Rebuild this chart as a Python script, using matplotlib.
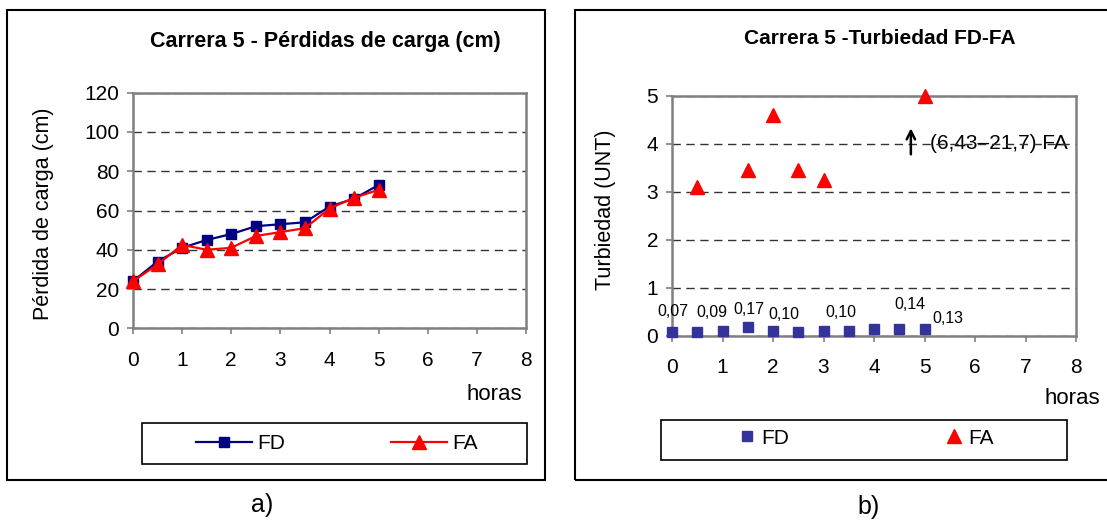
import matplotlib
matplotlib.use("Agg")
import matplotlib.pyplot as plt
from matplotlib.lines import Line2D
from matplotlib.patches import Rectangle

plt.rcParams["font.family"] = ["Liberation Sans", "DejaVu Sans"]

# Carrera 5: horas de operación
horas = [0, 0.5, 1, 1.5, 2, 2.5, 3, 3.5, 4, 4.5, 5]

# a) pérdidas de carga (cm)
perdida_fd = [24, 34, 41, 45, 48, 52, 53, 54, 62, 66, 73]
perdida_fa = [24, 32.5, 42.5, 40, 41, 47, 49, 51, 61, 66.5, 70.5]

# b) turbiedad (UNT)
turb_fd = [0.07, 0.08, 0.09, 0.17, 0.10, 0.08, 0.10, 0.10, 0.13, 0.14, 0.13]
horas_fa = [0.5, 1.5, 2, 2.5, 3, 5]
turb_fa = [3.1, 3.45, 4.6, 3.45, 3.25, 5.0]
rango_fa = (6.43, 21.7)

# etiquetas de valor en FD (índice del punto, posición de la etiqueta)
etiquetas_fd = [0, 2, 3, 4, 7, 9, 10]
pos_etiquetas = [(0.02, 0.50), (0.79, 0.48), (1.52, 0.54), (2.22, 0.44),
                 (3.35, 0.48), (4.71, 0.65), (5.46, 0.35)]

AZUL = "#000080"
AZUL_B = "#333399"
ROJO = "#ff0000"
GRIS = "#808080"

W, H = 1107, 522
fig = plt.figure(figsize=(W / 100, H / 100), dpi=100)


def caja(x0, y0, x1, y1, lw=1.5):
    """Rectángulo en píxeles de la figura (origen arriba-izquierda)."""
    r = Rectangle((x0 / W, 1 - y1 / H), (x1 - x0) / W, (y1 - y0) / H,
                  transform=fig.transFigure, fill=False, edgecolor="black",
                  linewidth=lw, zorder=0)
    fig.add_artist(r)


def ejes(x0, y0, x1, y1):
    ax = fig.add_axes([x0 / W, 1 - y1 / H, (x1 - x0) / W, (y1 - y0) / H])
    for s in ax.spines.values():
        s.set_color(GRIS)
        s.set_linewidth(1.8)
    ax.tick_params(colors=GRIS, labelcolor="black", labelsize=15,
                   length=4, width=1.2, direction="out")
    ax.tick_params(axis="x", pad=12)
    ax.tick_params(axis="y", pad=6)
    ax.yaxis.grid(True, linestyle=(0, (6, 4)), color="#333333", linewidth=1.0)
    ax.set_xlim(0, 8)
    ax.set_xticks(range(0, 9))
    return ax


# ---------------- a) pérdidas de carga ----------------
caja(7, 10, 545, 480)
ax1 = ejes(133, 92.7, 526, 328.3)
ax1.set_ylim(0, 120)
ax1.set_yticks(range(0, 121, 20))
ax1.plot(horas, perdida_fd, color=AZUL, lw=1.6, marker="s", ms=7.5,
         mfc=AZUL, mec=AZUL, clip_on=False, zorder=3)
ax1.plot(horas, perdida_fa, color=ROJO, lw=1.6, marker="^", ms=9.5,
         mfc=ROJO, mec=ROJO, clip_on=False, zorder=4)
fig.text(325 / W, 1 - 41 / H, "Carrera 5 - Pérdidas de carga (cm)",
         ha="center", va="center", fontsize=15.5, fontweight="bold")
fig.text(44 / W, 1 - 214 / H, "Pérdida de carga (cm)", rotation=90,
         ha="center", va="center", fontsize=15.5)
fig.text(494 / W, 1 - 395 / H, "horas", ha="center", va="center", fontsize=16)

caja(142, 423, 527, 464, lw=1.2)
h_fd = Line2D([], [], color=AZUL, lw=1.6, marker="s", ms=7.5)
h_fa = Line2D([], [], color=ROJO, lw=1.6, marker="^", ms=9.5)
fig.legend([h_fd, h_fa], ["FD", "FA"], loc="center left",
           bbox_to_anchor=(196 / W, 1 - 443.5 / H), ncol=2, frameon=False,
           fontsize=15, handlelength=2.7, handletextpad=0.25,
           columnspacing=5.05, borderpad=0, borderaxespad=0)
fig.text(262 / W, 1 - 505 / H, "a)", ha="center", va="center", fontsize=18)

# ---------------- b) turbiedad ----------------
caja(575, 10, 1115, 480)
ax2 = ejes(672, 95.7, 1076, 335.5)
ax2.set_ylim(0, 5)
ax2.set_yticks(range(0, 6))
ax2.plot(horas, turb_fd, ls="none", color=AZUL_B, marker="s", ms=7.5,
         clip_on=False, zorder=3)
ax2.plot(horas_fa, turb_fa, ls="none", color=ROJO, marker="^", ms=9.5,
         clip_on=False, zorder=4)
for i, (tx, ty) in zip(etiquetas_fd, pos_etiquetas):
    ax2.text(tx, ty, f"{turb_fd[i]:.2f}".replace(".", ","), ha="center",
             va="center", fontsize=11.5)

ax2.annotate("", xy=(4.73, 4.38), xytext=(4.73, 3.72),
             arrowprops=dict(arrowstyle="->", lw=1.8, color="black",
                             mutation_scale=15), zorder=5)
texto_rango = "({}–{}) FA".format(*[str(v).replace(".", ",") for v in rango_fa])
ax2.text(5.1, 4.0, texto_rango, ha="left", va="center", fontsize=15, zorder=1)

fig.text(880 / W, 1 - 39 / H, "Carrera 5 -Turbiedad FD-FA",
         ha="center", va="center", fontsize=15, fontweight="bold")
fig.text(605 / W, 1 - 210 / H, "Turbiedad (UNT)", rotation=90,
         ha="center", va="center", fontsize=15.5)
fig.text(1072 / W, 1 - 399 / H, "horas", ha="center", va="center", fontsize=16)

caja(661, 420, 1067, 460, lw=1.2)
p_fd = Line2D([], [], ls="none", color=AZUL_B, marker="s", ms=7.5)
p_fa = Line2D([], [], ls="none", color=ROJO, marker="^", ms=9.5)
fig.legend([p_fd, p_fa], ["FD", "FA"], loc="center left",
           bbox_to_anchor=(737 / W, 1 - 438 / H), ncol=2, frameon=False,
           fontsize=15, handlelength=1.0, handletextpad=0.15,
           columnspacing=7.45, borderpad=0, borderaxespad=0)
fig.text(869 / W, 1 - 507 / H, "b)", ha="center", va="center", fontsize=18)

fig.savefig("out.png", dpi=100)
